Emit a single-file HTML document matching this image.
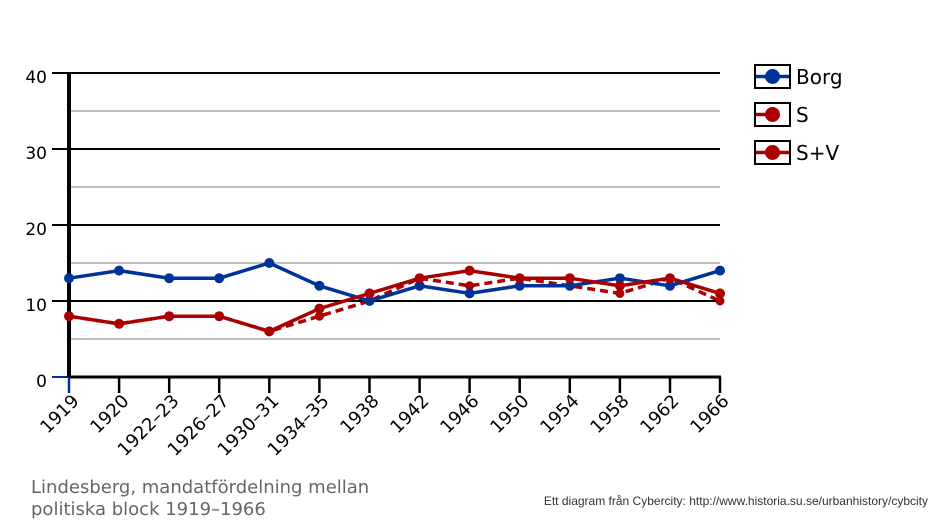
<!DOCTYPE html>
<html><head><meta charset="utf-8"><style>
body{margin:0;background:#fff;}
svg{display:block;font-family:"DejaVu Sans","Liberation Sans",sans-serif;}
</style></head><body>
<svg width="938" height="521" viewBox="0 0 938 521">
<g stroke="#999" stroke-width="1.3">
<line x1="69" y1="111" x2="720" y2="111"/><line x1="69" y1="187" x2="720" y2="187"/>
<line x1="69" y1="263" x2="720" y2="263"/><line x1="69" y1="339" x2="720" y2="339"/>
</g>
<g stroke="#000" stroke-width="2">
<line x1="52" y1="73" x2="720" y2="73"/><line x1="52" y1="149" x2="720" y2="149"/>
<line x1="52" y1="225" x2="720" y2="225"/><line x1="52" y1="301" x2="720" y2="301"/>
</g>
<line x1="52" y1="377" x2="69" y2="377" stroke="#003399" stroke-width="2"/>
<line x1="69" y1="377" x2="721" y2="377" stroke="#000" stroke-width="3"/>
<line x1="69" y1="73" x2="69" y2="377" stroke="#000" stroke-width="4"/>
<g stroke="#000" stroke-width="2.5">
<line x1="119.1" y1="377" x2="119.1" y2="393"/><line x1="169.2" y1="377" x2="169.2" y2="393"/>
<line x1="219.2" y1="377" x2="219.2" y2="393"/><line x1="269.3" y1="377" x2="269.3" y2="393"/>
<line x1="319.4" y1="377" x2="319.4" y2="393"/><line x1="369.5" y1="377" x2="369.5" y2="393"/>
<line x1="419.6" y1="377" x2="419.6" y2="393"/><line x1="469.6" y1="377" x2="469.6" y2="393"/>
<line x1="519.7" y1="377" x2="519.7" y2="393"/><line x1="569.8" y1="377" x2="569.8" y2="393"/>
<line x1="619.9" y1="377" x2="619.9" y2="393"/><line x1="670" y1="377" x2="670" y2="393"/>
<line x1="720" y1="377" x2="720" y2="393"/>
</g>
<line x1="69" y1="377" x2="69" y2="393" stroke="#003399" stroke-width="2.5"/>
<g font-size="17" fill="#000" text-anchor="end">
<text x="47" y="83">40</text><text x="47" y="159">30</text><text x="47" y="235">20</text>
<text x="47" y="311">10</text><text x="47" y="387">0</text>
</g>
<g font-size="18" fill="#000" text-anchor="end">
<text transform="translate(80,402) rotate(-45)">1919</text>
<text transform="translate(130,402) rotate(-45)">1920</text>
<text transform="translate(180,402) rotate(-45)">1922–23</text>
<text transform="translate(230,402) rotate(-45)">1926–27</text>
<text transform="translate(280,402) rotate(-45)">1930–31</text>
<text transform="translate(330,402) rotate(-45)">1934–35</text>
<text transform="translate(380,402) rotate(-45)">1938</text>
<text transform="translate(430,402) rotate(-45)">1942</text>
<text transform="translate(480,402) rotate(-45)">1946</text>
<text transform="translate(530,402) rotate(-45)">1950</text>
<text transform="translate(580,402) rotate(-45)">1954</text>
<text transform="translate(630,402) rotate(-45)">1958</text>
<text transform="translate(680,402) rotate(-45)">1962</text>
<text transform="translate(730,402) rotate(-45)">1966</text>
</g>
<polyline fill="none" stroke="#aa0000" stroke-width="3.5" stroke-dasharray="8,5" points="69,316.2 119.1,323.8 169.2,316.2 219.2,316.2 269.3,331.4 319.4,316.2 369.5,301 419.6,278.2 469.6,285.8 519.7,278.2 569.8,285.8 619.9,293.4 670,278.2 720,301"/>
<g fill="#aa0000">
<circle cx="319.4" cy="316.2" r="4.5"/><circle cx="369.5" cy="301" r="4.5"/><circle cx="469.6" cy="285.8" r="4.5"/>
<circle cx="569.8" cy="285.8" r="4.5"/><circle cx="619.9" cy="293.4" r="4.5"/><circle cx="720" cy="301" r="4.5"/>
</g>
<polyline fill="none" stroke="#003399" stroke-width="3.5" points="69,278.2 119.1,270.6 169.2,278.2 219.2,278.2 269.3,263 319.4,285.8 369.5,301 419.6,285.8 469.6,293.4 519.7,285.8 569.8,285.8 619.9,278.2 670,285.8 720,270.6"/>
<g fill="#003399">
<circle cx="69" cy="278.2" r="5"/><circle cx="119.1" cy="270.6" r="5"/><circle cx="169.2" cy="278.2" r="5"/><circle cx="219.2" cy="278.2" r="5"/><circle cx="269.3" cy="263" r="5"/><circle cx="319.4" cy="285.8" r="5"/><circle cx="369.5" cy="301" r="5"/><circle cx="419.6" cy="285.8" r="5"/><circle cx="469.6" cy="293.4" r="5"/><circle cx="519.7" cy="285.8" r="5"/><circle cx="569.8" cy="285.8" r="5"/><circle cx="619.9" cy="278.2" r="5"/><circle cx="670" cy="285.8" r="5"/><circle cx="720" cy="270.6" r="5"/>
</g>
<polyline fill="none" stroke="#aa0000" stroke-width="3.5" points="69,316.2 119.1,323.8 169.2,316.2 219.2,316.2 269.3,331.4 319.4,308.6 369.5,293.4 419.6,278.2 469.6,270.6 519.7,278.2 569.8,278.2 619.9,285.8 670,278.2 720,293.4"/>
<g fill="#aa0000">
<circle cx="69" cy="316.2" r="5"/><circle cx="119.1" cy="323.8" r="5"/><circle cx="169.2" cy="316.2" r="5"/><circle cx="219.2" cy="316.2" r="5"/><circle cx="269.3" cy="331.4" r="5"/><circle cx="319.4" cy="308.6" r="5"/><circle cx="369.5" cy="293.4" r="5"/><circle cx="419.6" cy="278.2" r="5"/><circle cx="469.6" cy="270.6" r="5"/><circle cx="519.7" cy="278.2" r="5"/><circle cx="569.8" cy="278.2" r="5"/><circle cx="619.9" cy="285.8" r="5"/><circle cx="670" cy="278.2" r="5"/><circle cx="720" cy="293.4" r="5"/>
</g>
<rect x="755" y="65" width="35" height="23" fill="#fff" stroke="#000" stroke-width="2"/>
<line x1="756" y1="76.5" x2="789" y2="76.5" stroke="#003399" stroke-width="3.5"/>
<circle cx="772.5" cy="76.5" r="7.5" fill="#003399"/>
<text x="796" y="84" font-size="20">Borg</text>
<rect x="755" y="103" width="35" height="23" fill="#fff" stroke="#000" stroke-width="2"/>
<line x1="756" y1="114.5" x2="766" y2="114.5" stroke="#aa0000" stroke-width="3.5"/>
<circle cx="772.5" cy="114.5" r="7.5" fill="#aa0000"/>
<text x="796" y="122" font-size="20">S</text>
<rect x="755" y="141" width="35" height="23" fill="#fff" stroke="#000" stroke-width="2"/>
<line x1="756" y1="152.5" x2="789" y2="152.5" stroke="#aa0000" stroke-width="3.5"/>
<circle cx="772.5" cy="152.5" r="7.5" fill="#aa0000"/>
<text x="796" y="160" font-size="20">S+V</text>
<text x="31" y="493" font-size="18" fill="#666">Lindesberg, mandatfördelning mellan</text>
<text x="31" y="515" font-size="18" fill="#666">politiska block 1919–1966</text>
<text x="928" y="505" font-size="12" fill="#333" text-anchor="end" font-family="Liberation Sans, sans-serif">Ett diagram från Cybercity: http://www.historia.su.se/urbanhistory/cybcity</text>
</svg>
</body></html>
